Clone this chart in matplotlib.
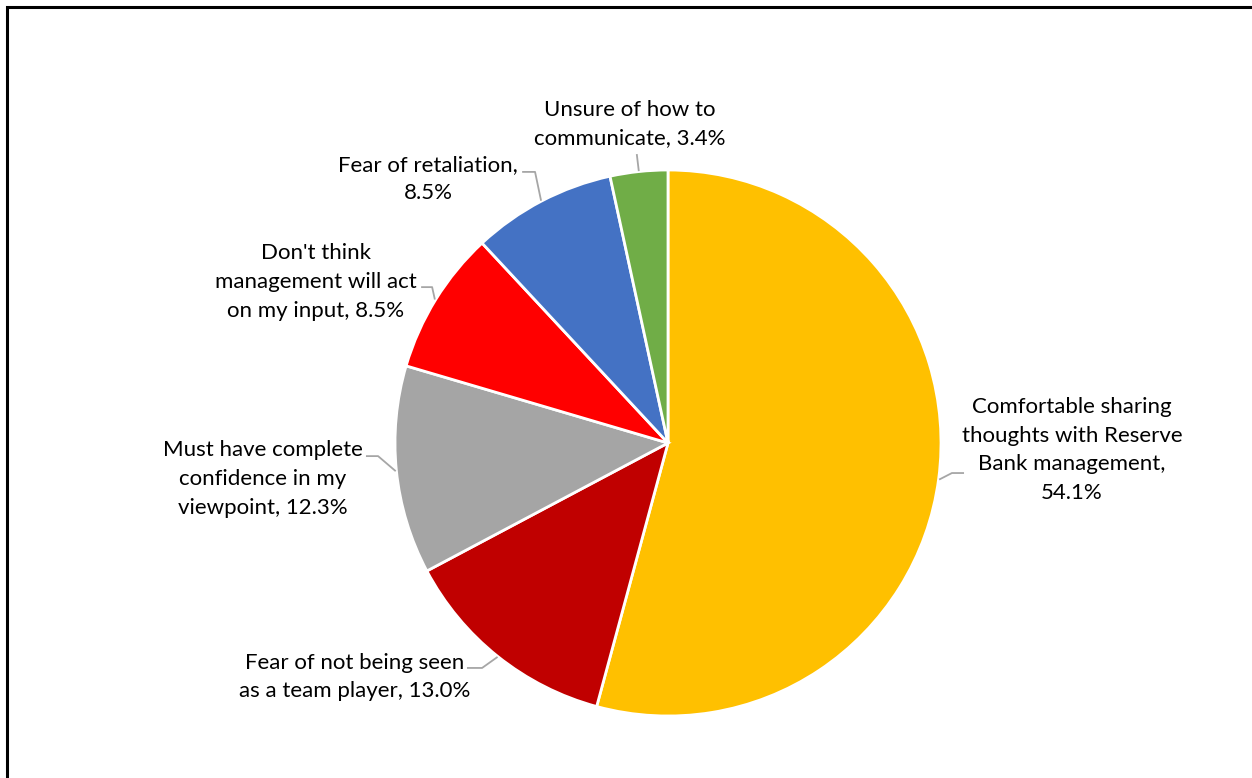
import matplotlib.pyplot as plt
import numpy as np
from matplotlib.patches import Rectangle

# slices, clockwise from 12 o'clock
labels = [
    'Comfortable sharing\nthoughts with Reserve\nBank management,\n54.1%',
    'Fear of not being seen\nas a team player, 13.0%',
    'Must have complete\nconfidence in my\nviewpoint, 12.3%',
    "Don't think\nmanagement will act\non my input, 8.5%",
    'Fear of retaliation,\n8.5%',
    'Unsure of how to\ncommunicate, 3.4%',
]
values = [54.1, 13.0, 12.3, 8.5, 8.5, 3.4]
colors = ['#FFC000', '#C00000', '#A5A5A5', '#FF0000', '#4472C4', '#70AD47']

# label centres and leader elbow/end points, in pie-radius units
label_pos = [(1.480, -0.026), (-1.147, -0.857), (-1.484, -0.132),
             (-1.290, 0.590), (-0.879, 0.967), (-0.139, 1.168)]
leader_pts = [
    [(1.040, -0.110), (1.081, -0.110)],
    [(-0.681, -0.824), (-0.733, -0.824)],
    [(-1.062, -0.048), (-1.103, -0.048)],
    [(-0.864, 0.571), (-0.901, 0.571)],
    [(-0.487, 0.993), (-0.531, 0.993)],
    [(-0.114, 1.055)],
]

W, H = 1252, 778
cx, cy, R = 668, 443, 273

fig = plt.figure(figsize=(W / 100, H / 100), dpi=100)
ax = fig.add_axes([0, 0, 1, 1])

wedges, _ = ax.pie(values, colors=colors, startangle=90, counterclock=False,
                   radius=1.0, center=(0, 0), frame=True,
                   wedgeprops=dict(edgecolor='white', linewidth=2.0))
ax.set_xlim(-cx / R, (W - cx) / R)
ax.set_ylim(-(H - cy) / R, cy / R)
ax.set_aspect('equal')
ax.axis('off')

for w, lab, (tx, ty), pts in zip(wedges, labels, label_pos, leader_pts):
    mid = np.deg2rad((w.theta1 + w.theta2) / 2)
    anchor = (np.cos(mid) * 1.005, np.sin(mid) * 1.005)
    xs = [anchor[0]] + [p[0] for p in pts]
    ys = [anchor[1]] + [p[1] for p in pts]
    ax.plot(xs, ys, color='#A6A6A6', linewidth=1.3, zorder=1)
    ax.text(tx, ty, lab, ha='center', va='center', multialignment='center',
            fontsize=16, family='Lato', color='#000000', linespacing=1.55)

# chart border (only left and top edges fall inside the image)
fig.patches.append(Rectangle((7 / W, -0.1), 1.2, 1 - 7 / H + 0.1,
                             transform=fig.transFigure, fill=False,
                             edgecolor='black', linewidth=2.2))

fig.savefig('out.png', dpi=100, facecolor='white')
